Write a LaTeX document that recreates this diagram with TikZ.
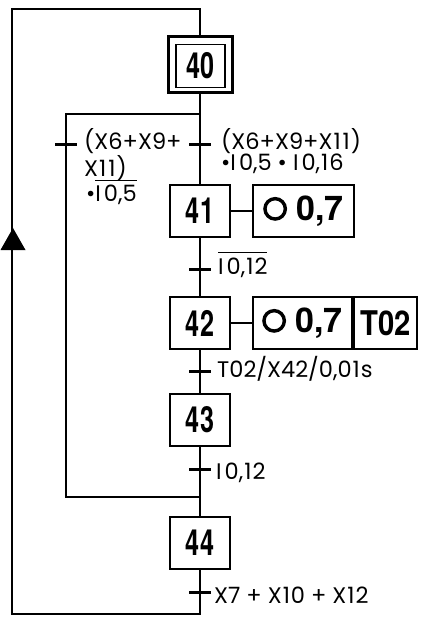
\documentclass[tikz,border=0pt]{standalone}
\usepackage{fontspec}
\setmainfont{Poppins}
\newfontfamily\stepfont{TeX Gyre Heros}[FakeStretch=0.7]
\newfontfamily\actfont{TeX Gyre Heros}
\newcommand\ovl[1]{\vbox{\hrule height 1.3pt\kern 4pt\hbox{#1}}}
\newcommand\inp{I\kern3pt}
\newcommand\one{\kern1pt 1\kern1pt}
\newcommand\circsym{\tikz[baseline=0pt]\draw[line width=3.4pt] (12pt,11.5pt) circle[radius=10.2pt];}
\begin{document}
\begin{tikzpicture}[x=1pt,y=-1pt,
  line/.style={line width=1.5pt},
  stepbox/.style={draw,line width=2pt,minimum width=60pt,minimum height=52pt,inner sep=0pt,
    font=\stepfont\bfseries\fontsize{36}{36}\selectfont},
  actbox/.style={draw,line width=2pt,minimum height=52pt,inner sep=0pt,anchor=west,
    font=\actfont\bfseries\fontsize{34}{34}\selectfont},
  lab/.style={anchor=base west,inner sep=0pt,font=\fontsize{22.5}{22.5}\selectfont},
  tick/.style={line width=3pt}
]
\useasboundingbox (0,0) rectangle (420,617);
\fill[white] (0,0) rectangle (420,617);

% steps
\node[stepbox,line width=3pt,minimum width=64pt,minimum height=56pt] (s40) at (200,65) {};
\node[stepbox,line width=1.5pt,minimum width=49pt,minimum height=43pt] (s40i) at (200.5,66) {40};
\node[stepbox] (s41) at (200,211) {41};
\node[stepbox] (s42) at (200,323) {42};
\node[stepbox] (s43) at (200,420) {43};
\node[stepbox] (s44) at (200,543) {44};

% actions
\node[actbox,minimum width=101pt] (a41) at (252,211) {\circsym\ 0,7};
\node[actbox,minimum width=99pt] (a42a) at (252,323) {\circsym\ 0,7};
\node[actbox,minimum width=63pt,font=\actfont\bfseries\fontsize{34}{34}\selectfont\addfontfeature{FakeStretch=0.86}] (a42b) at (a42a.east) {T02};

% coordinates
\coordinate (top) at (200,9);
\coordinate (topl) at (12,9);
\coordinate (botl) at (12,614);
\coordinate (bot) at (200,614);
\coordinate (div) at (200,114);
\coordinate (divl) at (66,114);
\coordinate (conl) at (66,497);
\coordinate (con) at (200,497);
\coordinate (arr) at (13,250);

% connectors
\draw[line] (s44.south) -- (bot) -- (botl) -- (topl) -- (top) -- (s40.north);
\draw[line] (s40.south) -- (s41.north);
\draw[line] (div) -- (divl) -- (conl) -- (con);
\draw[line] (s41.south) -- (s42.north);
\draw[line] (s42.south) -- (s43.north);
\draw[line] (s43.south) -- (s44.north);
\draw[line] (s41.east) -- (a41.west);
\draw[line] (s42.east) -- (a42a.west);

% arrow
\fill (arr) ++(-12.5,0) -- ++(25,0) -- ++(-12.5,-22) -- cycle;

% transitions
\coordinate (t0) at (66,145);
\coordinate (t1) at (200,145);
\coordinate (t2) at (200,269);
\coordinate (t3) at (200,371);
\coordinate (t4) at (200,469);
\coordinate (t5) at (200,592);
\foreach \t in {t0,t1,t2,t3,t4,t5}
  \draw[tick] (\t) ++(-11,0) -- ++(22,0);

% labels
\node[lab] (l0a) at (84,150) {(X6+X9+};
\node[lab] (l0b) at (84,177) {X\one\one)};
\node[lab] (l0c) at (86,202) {\textbullet\ovl{\inp0,5}};
\node[lab] (l1a) at (221,150) {(X6+X9+X\one\one)};
\node[lab] (l1b) at (221,171) {\textbullet\inp0,5 \textbullet\ \inp0,\one6};
\node[lab] (l2) at (218,274) {\ovl{\inp0,\one2}};
\node[lab] (l3) at (217,377) {T02/X42/0,0\one s};
\node[lab] (l4) at (216,479) {\inp0,\one2};
\node[lab] (l5) at (214,603) {X7\hspace{6pt}+\hspace{6pt}X\one0\hspace{6pt}+\hspace{6pt}X\one2};
\end{tikzpicture}
\end{document}
